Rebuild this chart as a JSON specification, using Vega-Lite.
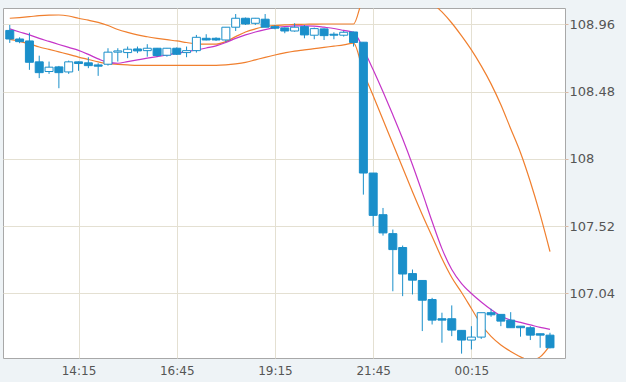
{
  "$schema": "https://vega.github.io/schema/vega-lite/v6.json",
  "autosize": "none",
  "width": 562,
  "height": 350,
  "padding": {"left": 3, "top": 8, "right": 61, "bottom": 24},
  "background": "#eef3f6",
  "config": {
    "view": {"fill": "white", "stroke": "#a8a8a8", "strokeWidth": 1},
    "font": "DejaVu Sans"
  },
  "data": {"values": [
    {"t":"2024-03-01T12:30:00","o":108.916,"h":108.955,"l":108.827,"c":108.855,"ma":108.927,"up":109.003,"lo":108.852},
    {"t":"2024-03-01T12:45:00","o":108.855,"h":108.867,"l":108.825,"c":108.836,"ma":108.905,"up":109.008,"lo":108.838},
    {"t":"2024-03-01T13:00:00","o":108.841,"h":108.900,"l":108.635,"c":108.689,"ma":108.884,"up":109.014,"lo":108.820},
    {"t":"2024-03-01T13:15:00","o":108.692,"h":108.736,"l":108.576,"c":108.615,"ma":108.859,"up":109.021,"lo":108.798},
    {"t":"2024-03-01T13:30:00","o":108.623,"h":108.694,"l":108.606,"c":108.654,"ma":108.838,"up":109.025,"lo":108.781},
    {"t":"2024-03-01T13:45:00","o":108.656,"h":108.663,"l":108.504,"c":108.615,"ma":108.816,"up":109.026,"lo":108.763},
    {"t":"2024-03-01T14:00:00","o":108.620,"h":108.701,"l":108.606,"c":108.692,"ma":108.795,"up":109.019,"lo":108.745},
    {"t":"2024-03-01T14:15:00","o":108.692,"h":108.695,"l":108.628,"c":108.680,"ma":108.774,"up":109.003,"lo":108.726},
    {"t":"2024-03-01T14:30:00","o":108.685,"h":108.725,"l":108.647,"c":108.665,"ma":108.745,"up":108.989,"lo":108.709},
    {"t":"2024-03-01T14:45:00","o":108.670,"h":108.682,"l":108.592,"c":108.661,"ma":108.713,"up":108.973,"lo":108.692},
    {"t":"2024-03-01T15:00:00","o":108.675,"h":108.789,"l":108.665,"c":108.761,"ma":108.688,"up":108.951,"lo":108.679},
    {"t":"2024-03-01T15:15:00","o":108.761,"h":108.789,"l":108.694,"c":108.770,"ma":108.682,"up":108.923,"lo":108.674},
    {"t":"2024-03-01T15:30:00","o":108.758,"h":108.801,"l":108.718,"c":108.782,"ma":108.694,"up":108.902,"lo":108.670},
    {"t":"2024-03-01T15:45:00","o":108.784,"h":108.801,"l":108.754,"c":108.770,"ma":108.706,"up":108.884,"lo":108.667},
    {"t":"2024-03-01T16:00:00","o":108.772,"h":108.818,"l":108.729,"c":108.789,"ma":108.718,"up":108.871,"lo":108.667},
    {"t":"2024-03-01T16:15:00","o":108.789,"h":108.791,"l":108.729,"c":108.737,"ma":108.729,"up":108.860,"lo":108.667},
    {"t":"2024-03-01T16:30:00","o":108.739,"h":108.791,"l":108.729,"c":108.789,"ma":108.741,"up":108.850,"lo":108.667},
    {"t":"2024-03-01T16:45:00","o":108.789,"h":108.795,"l":108.741,"c":108.746,"ma":108.754,"up":108.841,"lo":108.667},
    {"t":"2024-03-01T17:00:00","o":108.758,"h":108.801,"l":108.725,"c":108.772,"ma":108.765,"up":108.830,"lo":108.667},
    {"t":"2024-03-01T17:15:00","o":108.772,"h":108.884,"l":108.758,"c":108.867,"ma":108.777,"up":108.820,"lo":108.667},
    {"t":"2024-03-01T17:30:00","o":108.860,"h":108.889,"l":108.845,"c":108.848,"ma":108.791,"up":108.818,"lo":108.667},
    {"t":"2024-03-01T17:45:00","o":108.860,"h":108.867,"l":108.841,"c":108.848,"ma":108.806,"up":108.818,"lo":108.667},
    {"t":"2024-03-01T18:00:00","o":108.848,"h":108.939,"l":108.832,"c":108.939,"ma":108.830,"up":108.836,"lo":108.670},
    {"t":"2024-03-01T18:15:00","o":108.939,"h":109.033,"l":108.912,"c":109.003,"ma":108.859,"up":108.872,"lo":108.677},
    {"t":"2024-03-01T18:30:00","o":109.003,"h":109.008,"l":108.955,"c":108.962,"ma":108.884,"up":108.905,"lo":108.688},
    {"t":"2024-03-01T18:45:00","o":108.967,"h":109.005,"l":108.955,"c":109.003,"ma":108.905,"up":108.927,"lo":108.706},
    {"t":"2024-03-01T19:00:00","o":108.996,"h":109.033,"l":108.939,"c":108.939,"ma":108.922,"up":108.944,"lo":108.724},
    {"t":"2024-03-01T19:15:00","o":108.943,"h":108.955,"l":108.924,"c":108.932,"ma":108.936,"up":108.951,"lo":108.741},
    {"t":"2024-03-01T19:30:00","o":108.934,"h":108.937,"l":108.896,"c":108.912,"ma":108.944,"up":108.955,"lo":108.756},
    {"t":"2024-03-01T19:45:00","o":108.912,"h":108.967,"l":108.907,"c":108.939,"ma":108.949,"up":108.959,"lo":108.769},
    {"t":"2024-03-01T20:00:00","o":108.943,"h":108.955,"l":108.860,"c":108.884,"ma":108.949,"up":108.960,"lo":108.777},
    {"t":"2024-03-01T20:15:00","o":108.882,"h":108.936,"l":108.853,"c":108.929,"ma":108.947,"up":108.961,"lo":108.786},
    {"t":"2024-03-01T20:30:00","o":108.927,"h":108.930,"l":108.848,"c":108.879,"ma":108.939,"up":108.962,"lo":108.795},
    {"t":"2024-03-01T20:45:00","o":108.889,"h":108.903,"l":108.853,"c":108.882,"ma":108.930,"up":108.962,"lo":108.804},
    {"t":"2024-03-01T21:00:00","o":108.882,"h":108.912,"l":108.872,"c":108.903,"ma":108.916,"up":108.962,"lo":108.813},
    {"t":"2024-03-01T21:15:00","o":108.905,"h":108.907,"l":108.801,"c":108.830,"ma":108.902,"up":108.962,"lo":108.825},
    {"t":"2024-03-01T21:30:00","o":108.832,"h":108.832,"l":107.745,"c":107.899,"ma":108.784,"up":109.147,"lo":108.620},
    {"t":"2024-03-01T21:45:00","o":107.899,"h":107.899,"l":107.519,"c":107.597,"ma":108.635,"up":109.190,"lo":108.450},
    {"t":"2024-03-01T22:00:00","o":107.602,"h":107.650,"l":107.453,"c":107.472,"ma":108.478,"up":109.240,"lo":108.279},
    {"t":"2024-03-01T22:15:00","o":107.467,"h":107.496,"l":107.056,"c":107.353,"ma":108.314,"up":109.260,"lo":108.108},
    {"t":"2024-03-01T22:30:00","o":107.368,"h":107.382,"l":107.021,"c":107.179,"ma":108.143,"up":109.250,"lo":107.937},
    {"t":"2024-03-01T22:45:00","o":107.182,"h":107.211,"l":107.033,"c":107.135,"ma":107.958,"up":109.220,"lo":107.766},
    {"t":"2024-03-01T23:00:00","o":107.133,"h":107.133,"l":106.772,"c":106.992,"ma":107.759,"up":109.170,"lo":107.602},
    {"t":"2024-03-01T23:15:00","o":106.997,"h":107.009,"l":106.819,"c":106.850,"ma":107.553,"up":109.112,"lo":107.446},
    {"t":"2024-03-01T23:30:00","o":106.860,"h":106.903,"l":106.689,"c":106.850,"ma":107.360,"up":109.048,"lo":107.289},
    {"t":"2024-03-01T23:45:00","o":106.860,"h":106.955,"l":106.736,"c":106.779,"ma":107.211,"up":108.969,"lo":107.154},
    {"t":"2024-03-02T00:00:00","o":106.777,"h":106.777,"l":106.611,"c":106.708,"ma":107.111,"up":108.877,"lo":107.047},
    {"t":"2024-03-02T00:15:00","o":106.708,"h":106.807,"l":106.641,"c":106.729,"ma":107.040,"up":108.777,"lo":106.933},
    {"t":"2024-03-02T00:30:00","o":106.729,"h":106.903,"l":106.716,"c":106.903,"ma":106.980,"up":108.663,"lo":106.819},
    {"t":"2024-03-02T00:45:00","o":106.903,"h":106.931,"l":106.874,"c":106.888,"ma":106.926,"up":108.535,"lo":106.734},
    {"t":"2024-03-02T01:00:00","o":106.891,"h":106.891,"l":106.807,"c":106.843,"ma":106.880,"up":108.386,"lo":106.673},
    {"t":"2024-03-02T01:15:00","o":106.850,"h":106.907,"l":106.796,"c":106.796,"ma":106.851,"up":108.215,"lo":106.627},
    {"t":"2024-03-02T01:30:00","o":106.807,"h":106.807,"l":106.732,"c":106.796,"ma":106.834,"up":108.044,"lo":106.588},
    {"t":"2024-03-02T01:45:00","o":106.796,"h":106.807,"l":106.708,"c":106.743,"ma":106.816,"up":107.837,"lo":106.563},
    {"t":"2024-03-02T02:00:00","o":106.753,"h":106.753,"l":106.653,"c":106.743,"ma":106.798,"up":107.602,"lo":106.588},
    {"t":"2024-03-02T02:15:00","o":106.743,"h":106.760,"l":106.649,"c":106.653,"ma":106.784,"up":107.339,"lo":106.670}
  ]},
  "encoding": {
    "x": {
      "field": "t", "type": "temporal",
      "scale": {"domain": [
        {"year": 2024, "month": 3, "date": 1, "hours": 12, "minutes": 27, "seconds": 18},
        {"year": 2024, "month": 3, "date": 2, "hours": 2, "minutes": 30, "seconds": 18}
      ]},
      "axis": {
        "title": null, "format": "%H:%M", "orient": "bottom",
        "values": [
          {"year": 2024, "month": 3, "date": 1, "hours": 14, "minutes": 15},
          {"year": 2024, "month": 3, "date": 1, "hours": 16, "minutes": 45},
          {"year": 2024, "month": 3, "date": 1, "hours": 19, "minutes": 15},
          {"year": 2024, "month": 3, "date": 1, "hours": 21, "minutes": 45},
          {"year": 2024, "month": 3, "date": 2, "hours": 0, "minutes": 15}
        ],
        "grid": true, "gridColor": "#e4e0d2", "gridWidth": 1,
        "domain": false, "ticks": false,
        "labelFontSize": 12, "labelColor": "#555555", "labelPadding": 7,
        "labelFont": "DejaVu Sans"
      }
    }
  },
  "layer": [
    {
      "mark": {"type": "line", "color": "#f07f2e", "strokeWidth": 1.2, "clip": true, "interpolate": "monotone"},
      "encoding": {
        "y": {
          "field": "up", "type": "quantitative",
          "scale": {"domain": [106.58, 109.076], "nice": false, "zero": false},
          "axis": {
            "title": null, "orient": "right",
            "values": [107.04, 107.52, 108, 108.48, 108.96],
            "format": ".2~f",
            "grid": true, "gridColor": "#e4e0d2", "gridWidth": 1,
            "domain": false, "ticks": true, "tickSize": 3, "tickColor": "#dcb9a4",
            "labelFontSize": 13, "labelColor": "#555555", "labelPadding": 1,
            "labelFont": "DejaVu Sans"
          }
        }
      }
    },
    {
      "mark": {"type": "line", "color": "#f07f2e", "strokeWidth": 1.2, "clip": true, "interpolate": "monotone"},
      "encoding": {"y": {"field": "lo", "type": "quantitative"}}
    },
    {
      "mark": {"type": "line", "color": "#c535c8", "strokeWidth": 1.2, "clip": true, "interpolate": "monotone"},
      "encoding": {"y": {"field": "ma", "type": "quantitative"}}
    },
    {
      "mark": {"type": "rule", "color": "#1a8fca", "strokeWidth": 1},
      "encoding": {
        "y": {"field": "l", "type": "quantitative"},
        "y2": {"field": "h"}
      }
    },
    {
      "mark": {"type": "bar", "size": 8, "stroke": "#1a8fca", "strokeWidth": 1},
      "encoding": {
        "y": {"field": "o", "type": "quantitative"},
        "y2": {"field": "c"},
        "fill": {"condition": {"test": "datum.c > datum.o", "value": "#ffffff"}, "value": "#1a8fca"}
      }
    }
  ]
}
